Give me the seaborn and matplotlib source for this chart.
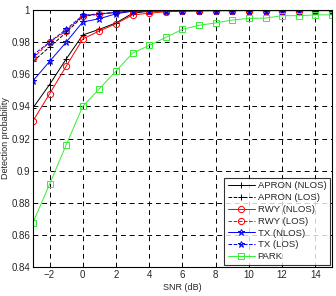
import numpy as np
import pandas as pd
import matplotlib
matplotlib.use("Agg")
import matplotlib.pyplot as plt
import seaborn as sns
from matplotlib.ticker import FormatStrFormatter

sns.set_style("white")
plt.rcParams['font.family'] = ['Liberation Sans', 'DejaVu Sans']

snr = list(range(-3, 16))

apron_nlos = [0.939, 0.9536, 0.9695, 0.9845, 0.988, 0.992, 0.998, 0.9993, 0.9995, 0.9996, 0.9996,
              0.9997, 0.9997, 0.9997, 0.9997, 0.9997, 0.9997, 0.9997, 0.9997]
apron_los = [0.968, 0.977, 0.986, 0.996, 0.9975, 0.9985, 0.9993, 0.9995, 0.9996, 0.9996, 0.9997,
             0.9997, 0.9997, 0.9997, 0.9997, 0.9997, 0.9997, 0.9997, 0.9997]
rwy_nlos = [0.9309, 0.9478, 0.965, 0.982, 0.987, 0.9915, 0.997, 0.998, 0.999, 0.9993, 0.9995,
            0.9996, 0.9996, 0.9997, 0.9997, 0.9997, 0.9997, 0.9997, 0.9997]
rwy_los = [0.970, 0.980, 0.987, 0.9965, 0.9975, 0.9985, 0.9993, 0.9995, 0.9996, 0.9996, 0.9997,
           0.9997, 0.9997, 0.9997, 0.9997, 0.9997, 0.9997, 0.9997, 0.9997]
tx_nlos = [0.9559, 0.968, 0.980, 0.9926, 0.9946, 0.9977, 0.9993, 0.9995, 0.9996, 0.9996, 0.9997,
           0.9997, 0.9997, 0.9997, 0.9997, 0.9997, 0.9997, 0.9997, 0.9997]
tx_los = [0.972, 0.980, 0.988, 0.9967, 0.9977, 0.9987, 0.9994, 0.9995, 0.9996, 0.9996, 0.9997,
          0.9997, 0.9997, 0.9997, 0.9997, 0.9997, 0.9997, 0.9997, 0.9997]
park = [0.8676, 0.8915, 0.916, 0.940, 0.951, 0.962, 0.9732, 0.978, 0.983, 0.988, 0.9905,
        0.992, 0.9938, 0.9948, 0.995, 0.9965, 0.9965, 0.997, 0.997]

series = [
    ('APRON (NLOS)', apron_nlos, 'black', '+', '-'),
    ('APRON (LOS)', apron_los, 'black', '+', '--'),
    ('RWY (NLOS)', rwy_nlos, 'red', 'o', '-'),
    ('RWY (LOS)', rwy_los, 'red', 'o', '--'),
    ('TX (NLOS)', tx_nlos, 'blue', '*', '-'),
    ('TX (LOS)', tx_los, 'blue', '*', '--'),
    ('PARK', park, '#33ee33', 's', '-'),
]

fig, ax = plt.subplots(figsize=(3.36, 2.96), dpi=100)
fig.subplots_adjust(left=0.098, right=0.988, top=0.966, bottom=0.098)

for name, vals, col, mk, ls in series:
    df = pd.DataFrame({'snr': snr, 'p': vals})
    sns.lineplot(data=df, x='snr', y='p', ax=ax, color=col, marker=mk, linestyle=ls,
                 linewidth=0.7, markersize=4.5, fillstyle='none', markeredgewidth=0.7,
                 markeredgecolor=col, label=name)

ax.set_xlim(-3, 15)
ax.set_ylim(0.84, 1.0)
ax.set_xticks(range(-2, 15, 2))
ax.set_yticks(np.arange(0.84, 1.001, 0.02))
ax.yaxis.set_major_formatter(FormatStrFormatter('%g'))
ax.grid(True, color='black', linestyle=(0, (5, 4)), linewidth=0.7)
ax.tick_params(direction='in', labelsize=7, length=3, width=0.6, pad=2)
for s in ax.spines.values():
    s.set_color('black')
    s.set_linewidth(0.8)
ax.set_xlabel('SNR (dB)', fontsize=6.5, labelpad=2)
ax.set_ylabel('Detection probability', fontsize=6.5, labelpad=1)

leg = ax.legend(loc='lower right', fontsize=6.8, frameon=True, fancybox=False,
                handlelength=2.8, labelspacing=0.3, borderaxespad=0.2, borderpad=0.4,
                handletextpad=0.3)
leg.get_frame().set_edgecolor('black')
leg.get_frame().set_linewidth(0.8)

fig.savefig('out.png', dpi=100)
